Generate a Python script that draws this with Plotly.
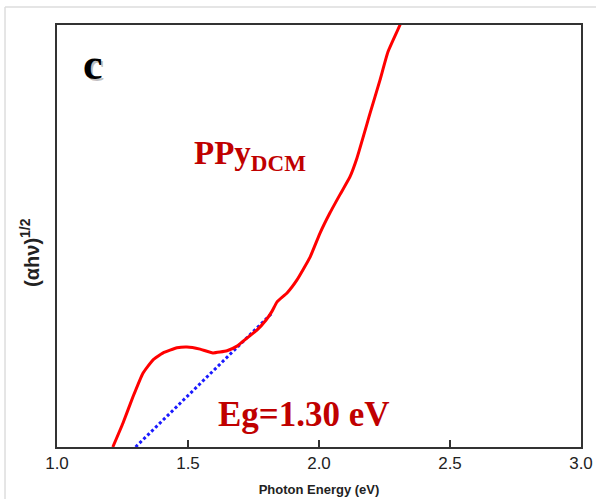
import plotly.graph_objects as go

# Tauc plot of PPy (DCM): photon energy (eV) vs (alpha*h*nu)^(1/2), arbitrary units
energy = [1.213, 1.252, 1.290, 1.328, 1.366, 1.405, 1.458, 1.496, 1.546, 1.595,
          1.649, 1.687, 1.725, 1.763, 1.798, 1.821, 1.840, 1.878, 1.916, 1.966,
          2.004, 2.042, 2.080, 2.118, 2.145, 2.195, 2.233, 2.263, 2.309, 2.324]
tauc = [0.00, 0.57, 1.19, 1.75, 2.06, 2.23, 2.35, 2.37, 2.32, 2.23,
        2.28, 2.39, 2.58, 2.77, 3.01, 3.22, 3.44, 3.65, 3.96, 4.50,
        5.07, 5.55, 5.98, 6.40, 6.85, 7.91, 8.70, 9.36, 10.00, 10.26]

# Linear extrapolation of the absorption edge down to the band gap
eg = 1.30
fit_end_x = 1.821
fit_end_y = 3.175
fit_x = [eg, fit_end_x]
fit_y = [0.0, fit_end_y]

x_ticks = [1.0, 1.5, 2.0, 2.5, 3.0]
x_tick_text = ["1.0", "1.5", "2.0", "2.5", "3.0"]

fig = go.Figure()
fig.add_trace(go.Scatter(x=fit_x, y=fit_y, mode="lines",
                         line=dict(color="#1a1aff", width=3, dash="3px,2.5px"),
                         hoverinfo="skip"))
fig.add_trace(go.Scatter(x=energy, y=tauc, mode="lines",
                         line=dict(color="#ff0000", width=3, shape="spline", smoothing=0.4)))

serif = "Liberation Serif, Times New Roman, serif"
sans = "Liberation Sans, Arial, sans-serif"
dark_red = "#c00000"

# panel letter with a soft drop shadow
fig.add_annotation(x=0.068, y=0.97, xref="paper", yref="paper", showarrow=False,
                   xanchor="center",
                   text="<b>c</b>", font=dict(family=serif, size=44, color="rgba(0,0,0,0.25)"),
                   xshift=2, yshift=-2)
fig.add_annotation(x=0.068, y=0.97, xref="paper", yref="paper", showarrow=False,
                   xanchor="center",
                   text="<b>c</b>", font=dict(family=serif, size=44, color="#000000"))

fig.add_annotation(x=0.258, y=0.745, xref="paper", yref="paper", showarrow=False,
                   xanchor="left",
                   text="<b>PPy<sub>DCM</sub></b>",
                   font=dict(family=serif, size=33, color=dark_red))
fig.add_annotation(x=0.303, y=0.027, xref="paper", yref="paper", showarrow=False,
                   xanchor="left",
                   text="<b>Eg=1.30 eV</b>",
                   font=dict(family=serif, size=35, color=dark_red))

# y-axis title
fig.add_annotation(x=-0.0515, y=0.46, xref="paper", yref="paper", showarrow=False,
                   xanchor="center", yanchor="middle", textangle=-90,
                   text="<b>(\u03b1h\u03bd)<sup>1/2</sup></b>",
                   font=dict(family=sans, size=20, color="#222222"))

fig.update_layout(
    width=596, height=499,
    margin=dict(l=57, r=15, t=25, b=52),
    paper_bgcolor="white", plot_bgcolor="white",
    showlegend=False,
    xaxis=dict(range=[1.0, 3.0], tickvals=x_ticks, ticktext=x_tick_text,
               automargin=False,
               ticks="inside", ticklen=7, tickwidth=1.5, tickcolor="#333333",
               showline=True, linecolor="#333333", linewidth=2, mirror=True,
               showgrid=False, zeroline=False,
               tickfont=dict(family=sans, size=17, color="#222222"),
               title=dict(text="<b>Photon Energy (eV)</b>", standoff=12,
                          font=dict(family=sans, size=13, color="#222222"))),
    yaxis=dict(range=[0, 10], showticklabels=False, ticks="", automargin=False,
               showline=True, linecolor="#333333", linewidth=2, mirror=True,
               showgrid=False, zeroline=False),
    shapes=[
        dict(type="line", xref="paper", yref="paper", x0=-0.0992, x1=1.05,
             y0=1.0427, y1=1.0427, line=dict(color="#dddddd", width=1.5)),
        dict(type="line", xref="paper", yref="paper", x0=-0.0992, x1=-0.0992,
             y0=1.0427, y1=-0.2, line=dict(color="#dddddd", width=1.5)),
    ],
)

fig.write_html("out.html")
